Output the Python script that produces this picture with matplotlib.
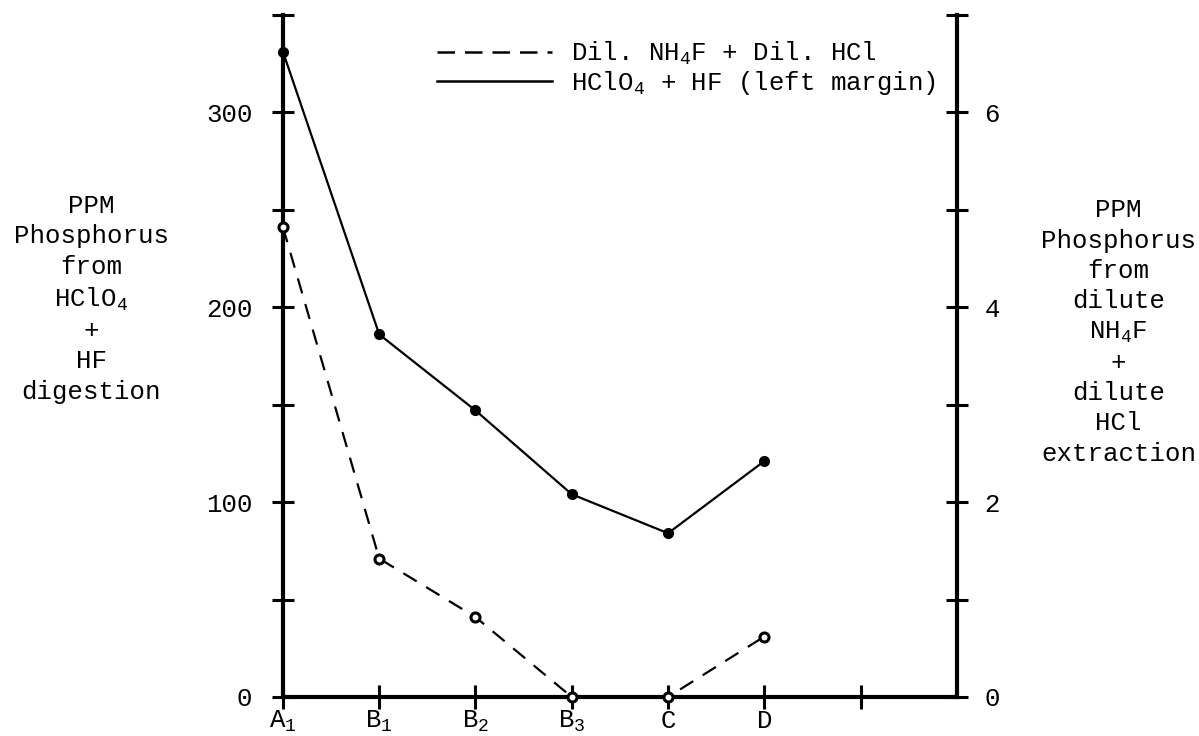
import matplotlib
matplotlib.use("Agg")
import matplotlib.pyplot as plt
from matplotlib.lines import Line2D

plt.rcParams["font.family"] = ["Liberation Mono", "DejaVu Sans Mono"]
plt.rcParams["mathtext.fontset"] = "custom"
plt.rcParams["mathtext.rm"] = "Liberation Mono"
plt.rcParams["mathtext.it"] = "Liberation Mono"

# sample horizons
horizons = ["A$_1$", "B$_1$", "B$_2$", "B$_3$", "C", "D", ""]

# ppm P, HClO4 + HF digestion (left scale)
hclo4_hf = [331, 186, 147, 104, 84, 121]

# ppm P, dilute NH4F + dilute HCl extraction (right scale)
nh4f_hcl = [4.82, 1.42, 0.82, 0.0, 0.0, 0.62]

left_ticks = [0, 50, 100, 150, 200, 250, 300, 350]
left_labels = ["0", "", "100", "", "200", "", "300", ""]
right_ticks = [0, 1, 2, 3, 4, 5, 6, 7]
right_labels = ["0", "", "2", "", "4", "", "6", ""]

fs = 18.5

fig = plt.figure(figsize=(11.99, 7.36), dpi=100)
ax = fig.add_axes([0.236, 0.053, 0.562, 0.927])
ax2 = ax.twinx()

x = list(range(len(hclo4_hf)))

# solid line - left axis
ax.plot(x, hclo4_hf, color="black", linewidth=1.6,
        marker="o", markersize=7, markerfacecolor="black",
        markeredgecolor="black", clip_on=False, zorder=5)

# dashed line - right axis
ax2.plot(x, nh4f_hcl, color="black", linewidth=1.6, linestyle=(0, (7, 5)),
         marker="o", markersize=6.5, markerfacecolor="white",
         markeredgecolor="black", markeredgewidth=2.2, clip_on=False, zorder=5)

ax.set_xlim(0, 7)
ax.set_ylim(0, 350)
ax2.set_ylim(0, 7)

ax.set_xticks(range(len(horizons)))
ax.set_xticklabels(horizons, fontsize=fs)
ax.set_yticks(left_ticks)
ax.set_yticklabels(left_labels, fontsize=fs)
ax2.set_yticks(right_ticks)
ax2.set_yticklabels(right_labels, fontsize=fs)

for a in (ax, ax2):
    a.spines["top"].set_visible(False)
    for s in ("left", "right", "bottom"):
        a.spines[s].set_linewidth(3)
ax.spines["right"].set_visible(False)
ax2.spines["left"].set_visible(False)
ax2.spines["bottom"].set_visible(False)

ax.tick_params(axis="y", direction="inout", length=16, width=2.2, pad=14)
ax.tick_params(axis="x", direction="inout", length=17, width=2.2, pad=0)
ax2.tick_params(axis="y", direction="inout", length=16, width=2.2, pad=12)

# axis titles as free text
fig.text(0.076, 0.594,
         "PPM\nPhosphorus\nfrom\nHClO$_4$\n+\nHF\ndigestion",
         ha="center", va="center", fontsize=fs, linespacing=1.33)
fig.text(0.933, 0.549,
         "PPM\nPhosphorus\nfrom\ndilute\nNH$_4$F\n+\ndilute\nHCl\nextraction",
         ha="center", va="center", fontsize=fs, linespacing=1.33)

handles = [
    Line2D([], [], color="black", linewidth=1.8, linestyle=(0, (7, 4))),
    Line2D([], [], color="black", linewidth=1.8),
]
labels = ["Dil. NH$_4$F + Dil. HCl", "HClO$_4$ + HF (left margin)"]
ax.legend(handles, labels, loc="upper left", bbox_to_anchor=(0.228, 0.963),
          frameon=False, fontsize=fs, handlelength=4.5, handletextpad=0.75,
          borderpad=0, borderaxespad=0, labelspacing=0.08)

fig.savefig("out.png", dpi=100)
